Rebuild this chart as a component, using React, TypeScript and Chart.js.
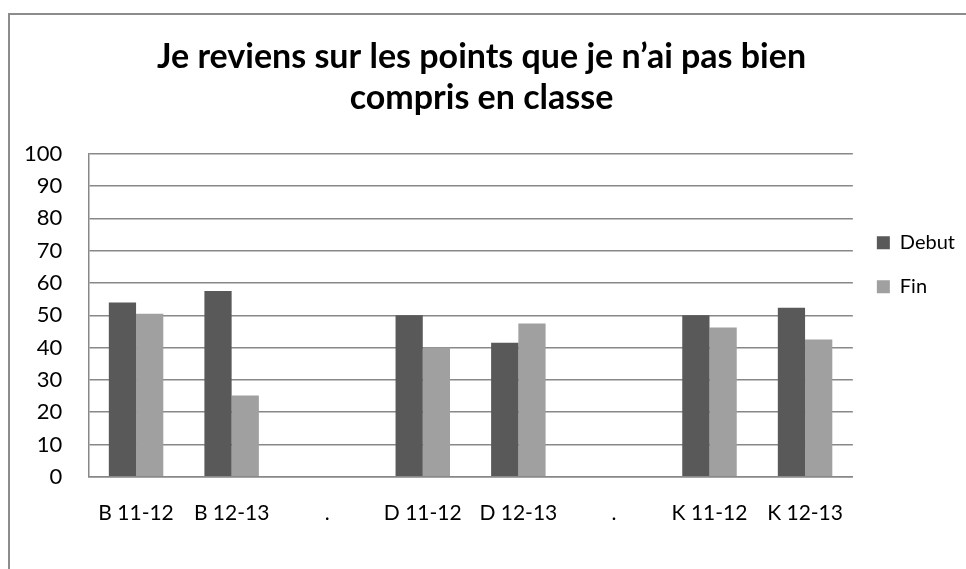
import React, { useEffect, useRef } from "react";
import { Chart, registerables } from "chart.js";

Chart.register(...registerables);

const categories = ["B 11-12", "B 12-13", ".", "D 11-12", "D 12-13", ".", "K 11-12", "K 12-13"];
const debutValues = [54, 57.5, null, 50, 41.5, null, 50, 52.3];
const finValues = [50.5, 25.2, null, 40, 47.5, null, 46.2, 42.5];
const titleLines = ["Je reviens sur les points que je n\u2019ai pas bien", "compris en classe"];
const seriesNames = ["Debut", "Fin"];

export default function App() {
  const ref = useRef<HTMLCanvasElement | null>(null);
  useEffect(() => {
    if (!ref.current) return;
    const chart = new Chart(ref.current, {
      type: "bar",
      data: {
        labels: categories,
        datasets: [
          { label: seriesNames[0], data: debutValues, backgroundColor: "#595959", categoryPercentage: 0.57, barPercentage: 1.0 },
          { label: seriesNames[1], data: finValues, backgroundColor: "#a0a0a0", categoryPercentage: 0.57, barPercentage: 1.0 },
        ],
      },
      options: {
        responsive: false,
        animation: false,
        layout: { padding: { left: -2, right: 1, top: 0, bottom: 27 } },
        plugins: {
          tooltip: { enabled: false },
          title: {
            display: true,
            text: titleLines,
            color: "#000",
            font: { family: "Lato", weight: "bold", size: 34, lineHeight: 1.2 },
            padding: { top: 36.5, bottom: 35.7 },
          },
          legend: {
            position: "right",
            align: "start",
            fullSize: false,
            title: { display: true, text: " ", font: { size: 12, lineHeight: 1.2 }, padding: { top: 40.6, bottom: 0 } },
            labels: {
              boxWidth: 13,
              boxHeight: 13,
              padding: 24,
              color: "#000",
              font: { family: "Lato", size: 20 },
            },
          },
        },
        scales: {
          x: {
            grid: { display: false },
            border: { display: true, color: "#888", width: 1.5 },
            ticks: { color: "#000", font: { family: "Lato", size: 21 }, padding: 16, maxRotation: 0, autoSkip: false },
          },
          y: {
            min: 0,
            max: 100,
            ticks: { stepSize: 10, color: "#000", font: { family: "Lato", size: 22 }, padding: 26 },
            grid: { color: "#888", lineWidth: 1.5, drawTicks: false },
            border: { display: true, color: "#888", width: 1.5 },
          },
        },
      },
    });
    return () => chart.destroy();
  }, []);
  return (
    <div style={{ position: "absolute", left: 0, top: 0, width: 966, height: 569, overflow: "hidden", background: "#fff" }}>
      <div style={{ position: "absolute", left: 8, top: 13, width: 1000, height: 600, borderLeft: "2px solid #8c8c8c", borderTop: "2px solid #8c8c8c" }} />
      <canvas ref={ref} width={966} height={569} style={{ position: "absolute", left: 0, top: 0 }} />
    </div>
  );
}
